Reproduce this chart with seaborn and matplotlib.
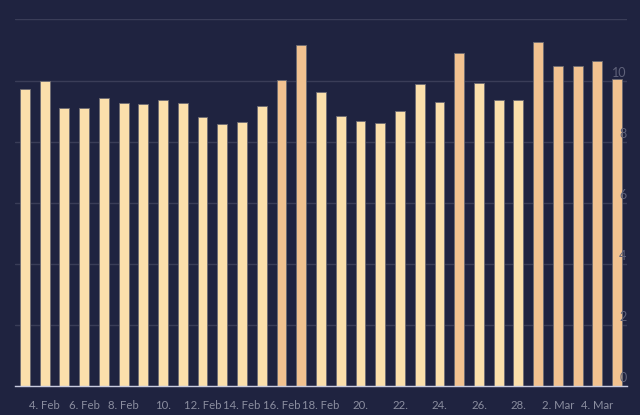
import pandas as pd
import matplotlib
matplotlib.use('Agg')
import matplotlib.pyplot as plt
import matplotlib.transforms as mtransforms
import seaborn as sns

# Daily values, 3 Feb - 5 Mar
dates = pd.date_range('2023-02-03', '2023-03-05', freq='D')
values = [9.73, 9.97, 9.10, 9.10, 9.43, 9.26, 9.23, 9.38, 9.26, 8.81,
          8.57, 8.63, 9.17, 10.02, 11.18, 9.61, 8.84, 8.69, 8.61, 9.02,
          9.88, 9.31, 10.89, 9.93, 9.38, 9.38, 11.27, 10.47, 10.47, 10.64,
          10.05]
tick_idx = [1, 3, 5, 7, 9, 11, 13, 15, 17, 19, 21, 23, 25, 27, 29]
tick_labels = ['4. Feb', '6. Feb', '8. Feb', '10.\nFeb', '12. Feb', '14. Feb',
               '16. Feb', '18. Feb', '20.\nFeb', '22.\nFeb', '24.\nFeb',
               '26.\nFeb', '28.\nFeb', '2. Mar', '4. Mar']
y_ticks = [0, 2, 4, 6, 8, 10]

df = pd.DataFrame({'day': dates.strftime('%Y-%m-%d'), 'value': values})

bg = '#1f2340'
light = '#fbdfab'
dark = '#f2c290'
colors = [dark if v >= 10 else light for v in values]

sns.set_style('dark')
plt.rcParams['font.family'] = ['Lato', 'DejaVu Sans']

fig = plt.figure(figsize=(6.4, 4.15), dpi=100, facecolor=bg)
ax = fig.add_axes([15 / 640, 1 - 386 / 415, 612 / 640, (386 - 19.5) / 415])
ax.set_facecolor(bg)

sns.barplot(data=df, x='day', y='value', hue='day', palette=colors,
            legend=False, width=0.5, edgecolor='#6d6b72', linewidth=0.6,
            saturation=1, ax=ax, zorder=3)

ax.set_xlim(-0.5, len(values) - 0.5)
ax.set_ylim(0, 12)
ax.set_xlabel('')
ax.set_ylabel('')

# gridlines
ax.set_yticks([0, 2, 4, 6, 8, 10, 12])
ax.yaxis.grid(True, color='#3a3d58', linewidth=1)
ax.xaxis.grid(False)
ax.tick_params(axis='y', length=0, labelleft=False)

# y labels inside, right, sitting on gridlines
trans = mtransforms.blended_transform_factory(ax.transAxes, ax.transData)
for t in y_ticks:
    ax.text(0.999, t + 0.05, str(t), transform=trans, ha='right', va='bottom',
            color='#5f627a', fontsize=9)

ax.set_xticks(tick_idx)
ax.set_xticklabels(tick_labels, color='#8a8d9f', fontsize=8.2, linespacing=1.5)
ax.tick_params(axis='x', length=7, width=1, color='#c8cbe0', pad=3)

for s in ['top', 'left', 'right']:
    ax.spines[s].set_visible(False)
ax.spines['bottom'].set_color('#c8cbe0')
ax.spines['bottom'].set_linewidth(1)
ax.spines['bottom'].set_zorder(4)

fig.savefig('out.png', dpi=100, facecolor=bg)
